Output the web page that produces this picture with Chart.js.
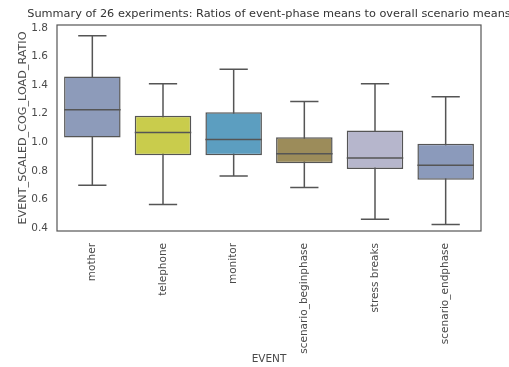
<!DOCTYPE html>
<html>
<head>
<meta charset="utf-8">
<script src="https://cdn.jsdelivr.net/npm/chart.js@4"></script>
<style>
  html, body { margin: 0; padding: 0; background: #fff; overflow: hidden; }
  #wrap { width: 509px; height: 367px; }
</style>
</head>
<body>
<div id="wrap"><canvas id="chartBox"></canvas></div>
<script>
const events = ['mother', 'telephone', 'monitor', 'scenario_beginphase', 'stress breaks', 'scenario_endphase'];
const whiskerLow = [0.70, 0.565, 0.765, 0.684, 0.462, 0.425];
const q1 = [1.033, 0.91, 0.91, 0.853, 0.813, 0.738];
const median = [1.227, 1.068, 1.02, 0.92, 0.89, 0.839];
const q3 = [1.46, 1.185, 1.21, 1.035, 1.082, 0.99];
const whiskerHigh = [1.744, 1.41, 1.51, 1.286, 1.41, 1.318];
const yTicks = [0.4, 0.6, 0.8, 1.0, 1.2, 1.4, 1.6, 1.8];

const boxColors = ['#8d9bba', '#c9cc4c', '#5c9ec0', '#9c8c5a', '#b6b6cc', '#8b9abb'];
const lineColor = '#555555';
const textColor = '#4a4a4a';
const fontFamily = '"DejaVu Sans", sans-serif';

// whiskers behind the boxes, medians on top, frame + title last
const boxplotExtras = {
  id: 'boxplotExtras',
  beforeDatasetsDraw(chart) {
    const { ctx, scales: { y } } = chart;
    const meta = chart.getDatasetMeta(0);
    ctx.save();
    ctx.strokeStyle = lineColor;
    ctx.lineWidth = 1.5;
    meta.data.forEach((bar, i) => {
      const cx = bar.x;
      const half = bar.width / 4;
      const yLo = y.getPixelForValue(whiskerLow[i]);
      const yHi = y.getPixelForValue(whiskerHigh[i]);
      ctx.beginPath();
      ctx.moveTo(cx, yLo);
      ctx.lineTo(cx, yHi);
      ctx.moveTo(cx - half, yLo);
      ctx.lineTo(cx + half, yLo);
      ctx.moveTo(cx - half, yHi);
      ctx.lineTo(cx + half, yHi);
      ctx.stroke();
    });
    ctx.restore();
  },
  afterDatasetsDraw(chart) {
    const { ctx, scales: { y } } = chart;
    const meta = chart.getDatasetMeta(0);
    ctx.save();
    ctx.strokeStyle = lineColor;
    ctx.lineWidth = 1.5;
    meta.data.forEach((bar, i) => {
      const ym = y.getPixelForValue(median[i]);
      ctx.beginPath();
      ctx.moveTo(bar.x - bar.width / 2, ym);
      ctx.lineTo(bar.x + bar.width / 2, ym);
      ctx.stroke();
    });
    ctx.restore();
  },
  afterDraw(chart) {
    const { ctx, chartArea: a } = chart;
    ctx.save();
    ctx.strokeStyle = '#555555';
    ctx.lineWidth = 1.2;
    ctx.strokeRect(a.left, a.top, a.right - a.left, a.bottom - a.top);
    ctx.fillStyle = '#333333';
    ctx.font = '11.3px ' + fontFamily;
    ctx.textAlign = 'center';
    ctx.textBaseline = 'middle';
    ctx.fillText('Summary of 26 experiments: Ratios of event-phase means to overall scenario means',
      (a.left + a.right) / 2, 14);
    ctx.restore();
  }
};

new Chart(document.getElementById('chartBox').getContext('2d'), {
  type: 'bar',
  data: {
    labels: events,
    datasets: [{
      data: events.map((e, i) => [q1[i], q3[i]]),
      backgroundColor: boxColors,
      borderColor: lineColor,
      borderWidth: 1.5,
      borderSkipped: false,
      categoryPercentage: 0.8,
      barPercentage: 1.0
    }]
  },
  options: {
    responsive: true,
    maintainAspectRatio: false,
    animation: false,
    layout: { padding: { top: 25, right: 28, left: 0, bottom: 0 } },
    plugins: {
      legend: { display: false },
      tooltip: { enabled: false }
    },
    scales: {
      x: {
        grid: { display: false, drawTicks: false },
        border: { display: false },
        ticks: {
          minRotation: 90,
          maxRotation: 90,
          padding: 12,
          color: textColor,
          font: { family: fontFamily, size: 10.5 }
        },
        title: {
          display: true,
          text: 'EVENT',
          color: textColor,
          padding: { top: 0, bottom: 1 },
          font: { family: fontFamily, size: 10.5 }
        },
        afterFit(scale) { scale.height = 136; }
      },
      y: {
        min: 0.38,
        max: 1.82,
        grid: { display: false, drawTicks: false },
        border: { display: false },
        afterBuildTicks(scale) {
          scale.ticks = yTicks.map(v => ({ value: v }));
        },
        ticks: {
          padding: 9,
          color: textColor,
          font: { family: fontFamily, size: 10.5 },
          callback: (val) => Number(val).toFixed(1)
        },
        title: {
          display: true,
          text: 'EVENT_SCALED_COG_LOAD_RATIO',
          color: textColor,
          padding: { top: 16, bottom: 0 },
          font: { family: fontFamily, size: 11.2 }
        },
        afterFit(scale) { scale.width = 57; }
      }
    }
  },
  plugins: [boxplotExtras]
});
</script>
</body>
</html>
